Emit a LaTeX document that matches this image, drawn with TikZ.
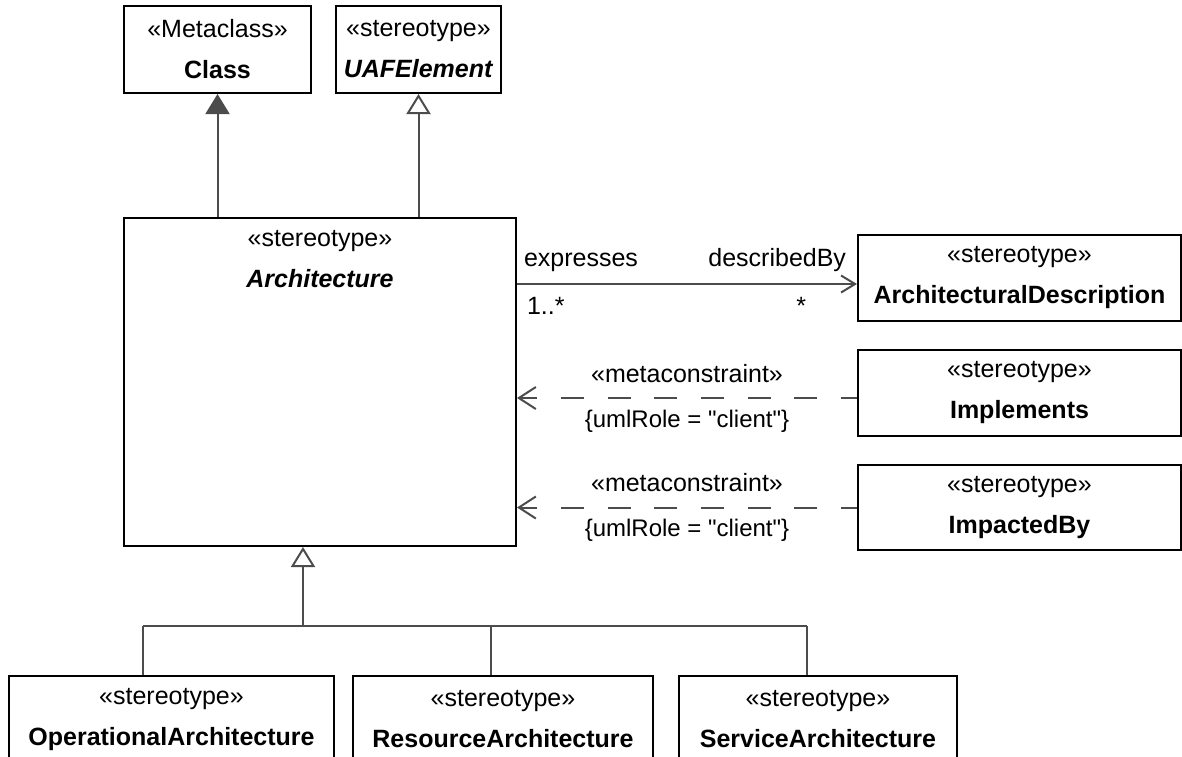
\documentclass[tikz,border=0pt]{standalone}
\usepackage{fontspec}
\setmainfont{Liberation Sans}
\usetikzlibrary{arrows.meta,positioning}
\newcommand\colorLink{black!70}

\tikzset{
	umlbox/.style={draw=black, line width=2pt, inner sep=0pt, anchor=north west, align=center, font=\fontsize{25}{41}\selectfont},
	link/.style={draw=\colorLink, line width=2pt},
	lbl/.style={inner sep=0pt, font=\fontsize{25}{30}\selectfont},
	gen/.style={link, -{Triangle[open, length=20pt, width=24pt, fill=white]}},
	dep/.style={link, dash pattern=on 23pt off 23.7pt, dash phase=7pt, -{Straight Barb[length=17pt, width=22pt]}},
}

\begin{document}
\begin{tikzpicture}[x=1pt,y=-1pt]
		\useasboundingbox (0,0) rectangle (1182,756);
		\clip (0,0) rectangle (1182,756);

		% top metaclass and parent
		\node[umlbox, minimum width=187pt, minimum height=87pt] (class) at (123,5) {«Metaclass»\\\textbf{Class}};
		\node[umlbox, minimum width=165pt, minimum height=87pt] (uaf) at (335,5) {«stereotype»\\\textbf{\textit{UAFElement}}};

		% main stereotype
		\node[umlbox, minimum width=392pt, minimum height=328pt] (arch) at (123,217) {};
		\node[lbl, align=center, font=\fontsize{25}{41}\selectfont, below=13pt of arch.north] (archname) {«stereotype»\\\textbf{\textit{Architecture}}};

		% right side
		\node[umlbox, minimum width=323pt, minimum height=86pt] (ad) at (857,234) {«stereotype»\\\textbf{ArchitecturalDescription}};
		\node[umlbox, minimum width=323pt, minimum height=86pt] (impl) at (857,349) {«stereotype»\\\textbf{Implements}};
		\node[umlbox, minimum width=323pt, minimum height=85pt] (impact) at (857,464) {«stereotype»\\\textbf{ImpactedBy}};

		\draw[link, -{Triangle[length=20pt, width=24pt]}] (class.south |- arch.north) -- (class.south);
		\draw[gen] (uaf.south |- arch.north) -- (uaf.south);

		\coordinate (adin) at ([yshift=-6pt]ad.west);
		\draw[link, -{Straight Barb[length=14pt, width=17pt]}] (arch.east |- adin) -- (adin)
			node[lbl, pos=0, anchor=base west, xshift=6pt, yshift=18pt] (expr) {expresses}
			node[lbl, pos=0, anchor=base west, xshift=9pt, yshift=-30pt] (mult1) {1..*}
			node[lbl, pos=1, anchor=base east, xshift=-10pt, yshift=18pt] (descr) {describedBy}
			node[lbl, pos=1, anchor=base east, xshift=-50pt, yshift=-30pt] (mult2) {*};

		\coordinate (implout) at ([yshift=-5pt]impl.west);
		\draw[dep] (implout) -- (arch.east |- implout)
			node[lbl, midway, anchor=base, yshift=16pt] (mc1) {«metaconstraint»}
			node[lbl, midway, anchor=base, yshift=-29pt, font=\fontsize{24}{30}\selectfont] (role1) {\{umlRole = \textquotedbl client\textquotedbl\}};
		\draw[dep] (impact.west) -- (arch.east |- impact.west)
			node[lbl, midway, anchor=base, yshift=16pt] (mc2) {«metaconstraint»}
			node[lbl, midway, anchor=base, yshift=-29pt, font=\fontsize{24}{30}\selectfont] (role2) {\{umlRole = \textquotedbl client\textquotedbl\}};

		% children
		\coordinate (bus) at (303,626);
		\draw[gen] (bus) -- (bus |- arch.south);
		\foreach \name/\x/\w/\tap/\txt in {oper/8/325/143/OperationalArchitecture, res/352/300/491/ResourceArchitecture, svc/678/278/807/ServiceArchitecture}{
			\node[umlbox, minimum width=\w pt, minimum height=87pt] (\name) at (\x,675) {«stereotype»\\\textbf{\txt}};
			\draw[link] (\tap,675) -- (\tap,626);
		}
		\draw[link] (143,626) -- (807,626);
	\end{tikzpicture}
\end{document}
